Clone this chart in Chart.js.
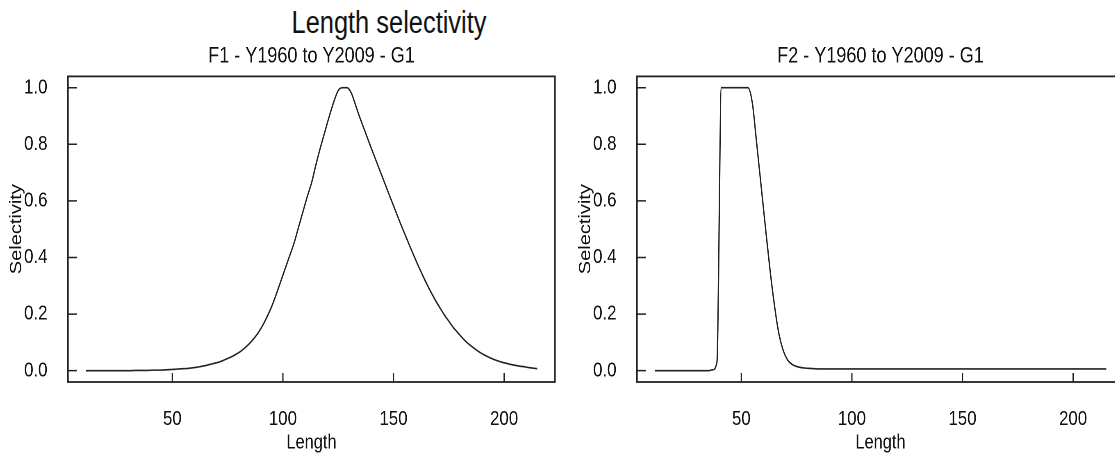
<!DOCTYPE html>
<html>
<head>
<meta charset="utf-8">
<script src="https://cdn.jsdelivr.net/npm/chart.js@4.4.1/dist/chart.umd.min.js"></script>
<style>
  html, body { margin: 0; padding: 0; background: #fff; overflow: hidden; }
  body { width: 1115px; height: 455px; position: relative; }
  /* the original R figure was squeezed sideways, so the panels are drawn wider and squeezed too */
  .box { position: absolute; top: 0; width: 760px; height: 455px; transform: scaleX(0.82); transform-origin: 0 0; }
  #main-title { position: absolute; left: 0; top: 7px; width: 778px; text-align: center;
    font: 31px/31px 'Liberation Sans', Arial, sans-serif; color: #111;
    transform: scaleX(0.82); transform-origin: 389px 0; }
</style>
</head>
<body>
<div id="main-title">Length selectivity</div>
<div class="box" style="left:0"><canvas id="f1"></canvas></div>
<div class="box" style="left:569px"><canvas id="f2"></canvas></div>
<script>
var lengths = [11,13,15,17,19,21,23,25,27,29,31,33,35,37,39,41,43,45,47,49,
  51,53,55,57,59,61,63,65,67,69,71,73,75,77,79,81,83,85,87,89,
  91,93,95,97,99,101,103,105,107,109,111,113,115,117,119,121,123,125,127,129,
  131,133,135,137,139,141,143,145,147,149,151,153,155,157,159,161,163,165,167,169,
  171,173,175,177,179,181,183,185,187,189,191,193,195,197,199,201,203,205,207,209,
  211,213,215];

// F1 - Y1960 to Y2009 - G1
var selF1 = [0,0,0,0,0,0,0,0,0,0,0,
  0.001,0.001,0.001,0.001,0.002,0.002,0.002,0.003,0.004,0.005,
  0.006,0.007,0.008,0.01,0.012,0.015,0.018,0.022,0.026,0.03,
  0.036,0.043,0.05,0.059,0.069,0.082,0.097,0.115,0.136,0.162,
  0.193,0.228,0.27,0.315,0.36,0.405,0.45,0.505,0.56,0.615,
  0.665,0.73,0.79,0.845,0.9,0.95,0.99,1.0,1.0,0.98,
  0.935,0.89,0.848,0.806,0.765,0.724,0.684,0.643,0.603,0.563,
  0.523,0.485,0.447,0.41,0.374,0.34,0.307,0.277,0.248,0.222,
  0.197,0.175,0.153,0.135,0.117,0.101,0.088,0.076,0.065,0.056,
  0.048,0.041,0.035,0.03,0.026,0.022,0.019,0.016,0.014,0.011,
  0.009,0.007];

// F2 - Y1960 to Y2009 - G1
var selF2 = [0,0,0,0,0,0,0,0,0,0,0,0,0,
  0.003,0.03,1,1,1,1,1,1,1,
  0.945,0.8,0.65,0.5,0.355,0.23,0.13,0.07,0.037,0.022,
  0.015,0.011,0.009,0.008,0.007,
  0.006,0.006,0.006,0.006,0.006,0.006,0.006,0.006,0.006,0.006,
  0.006,0.006,0.006,0.006,0.006,0.006,0.006,0.006,0.006,0.006,
  0.006,0.006,0.006,0.006,0.006,0.006,0.006,0.006,0.006,0.006,
  0.006,0.006,0.006,0.006,0.006,0.006,0.006,0.006,0.006,0.006,
  0.006,0.006,0.006,0.006,0.006,0.006,0.006,0.006,0.006,0.006,
  0.006,0.006,0.006,0.006,0.006,0.006,0.006,0.006,0.006,0.006,
  0.006,0.006,0.006,0.006,0.006,0.006];

var xTicks = [50, 100, 150, 200];
var yTicks = [0, 0.2, 0.4, 0.6, 0.8, 1.0];

var font = "'Liberation Sans', Arial, sans-serif";

// box round the plot area plus inward tick marks, like base R graphics
var frame = {
  id: 'frame',
  afterDraw: function(chart) {
    var ctx = chart.ctx, a = chart.chartArea, x = chart.scales.x, y = chart.scales.y;
    ctx.save();
    ctx.strokeStyle = '#222';
    ctx.lineWidth = 1.8;
    ctx.strokeRect(a.left, a.top, a.right - a.left, a.bottom - a.top);
    ctx.lineWidth = 1.5;
    ctx.beginPath();
    xTicks.forEach(function(v) {
      var px = x.getPixelForValue(v);
      ctx.moveTo(px, a.bottom);
      ctx.lineTo(px, a.bottom - 9);
    });
    yTicks.forEach(function(v) {
      var py = y.getPixelForValue(v);
      ctx.moveTo(a.left, py);
      ctx.lineTo(a.left + 11, py);
    });
    ctx.stroke();
    ctx.restore();
  }
};

function selectivityChart(id, title, values) {
  return new Chart(document.getElementById(id), {
    type: 'line',
    data: {
      datasets: [{
        data: lengths.map(function(l, i) { return {x: l, y: values[i]}; }),
        borderColor: '#222',
        borderWidth: 1.6,
        pointRadius: 0,
        cubicInterpolationMode: 'monotone',
        fill: false
      }]
    },
    plugins: [frame],
    options: {
      responsive: true,
      maintainAspectRatio: false,
      animation: false,
      devicePixelRatio: 2,
      layout: { padding: { left: 0, right: 83.2, top: 0, bottom: 0 } },
      plugins: {
        legend: { display: false },
        tooltip: { enabled: false },
        title: {
          display: true,
          text: title,
          fullSize: false,
          color: '#111',
          font: { family: font, size: 22, weight: 'normal' },
          padding: { top: 43, bottom: 7 }
        }
      },
      scales: {
        x: {
          type: 'linear',
          min: 2.84,
          max: 223,
          afterBuildTicks: function(scale) {
            scale.ticks = xTicks.map(function(v) { return {value: v}; });
          },
          afterFit: function(scale) { scale.height = 73; },
          grid: { display: false, drawTicks: false },
          border: { display: false },
          ticks: {
            color: '#111',
            padding: 25,
            maxRotation: 0,
            font: { family: font, size: 20.5 }
          },
          title: {
            display: true,
            text: 'Length',
            color: '#111',
            font: { family: font, size: 20 },
            padding: { top: 0, bottom: 0 }
          }
        },
        y: {
          min: -0.04,
          max: 1.04,
          afterBuildTicks: function(scale) {
            scale.ticks = yTicks.map(function(v) { return {value: v}; });
          },
          afterFit: function(scale) { scale.width = 82.9; },
          grid: { display: false, drawTicks: false },
          border: { display: false },
          ticks: {
            color: '#111',
            padding: 25,
            font: { family: font, size: 20.5 },
            callback: function(v) { return Number(v).toFixed(1); }
          },
          title: {
            display: true,
            text: 'Selectivity',
            color: '#111',
            font: { family: font, size: 20 },
            padding: { top: 8.5, bottom: 0 }
          }
        }
      }
    }
  });
}

selectivityChart('f1', 'F1 - Y1960 to Y2009 - G1', selF1);
selectivityChart('f2', 'F2 - Y1960 to Y2009 - G1', selF2);
</script>
</body>
</html>
